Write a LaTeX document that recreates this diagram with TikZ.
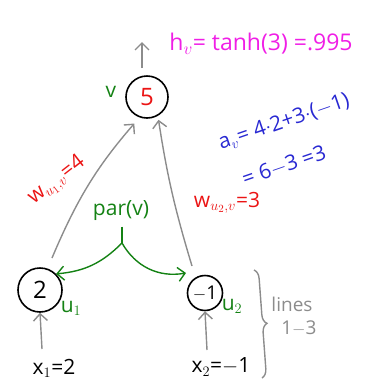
\documentclass[tikz,border=0pt]{standalone}
\usepackage{fontspec}
\setmainfont{Open Sans}
\usetikzlibrary{arrows.meta,decorations.pathreplacing}
\definecolor{gr}{RGB}{140,140,140}
\definecolor{grn}{RGB}{20,130,20}
\definecolor{mag}{RGB}{240,30,230}
\definecolor{blu}{RGB}{40,40,210}
\definecolor{rd}{RGB}{235,20,20}
\begin{document}
\begin{tikzpicture}[x=1pt,y=-1pt,
  neuron/.style={circle,draw=black,line width=1.6pt,minimum size=42pt,inner sep=0pt,font=\fontsize{24}{24}\selectfont},
  conn/.style={draw=gr,line width=1.4pt,-{Straight Barb[length=7pt,width=14pt]}},
  parr/.style={draw=grn,line width=1.4pt,-{Straight Barb[length=7pt,width=14pt]}},
  lab/.style={font=\fontsize{21}{21}\selectfont}]
\useasboundingbox (0,0) rectangle (368,384);
\node[neuron,text=rd] (v) at (147,97) {5};
\node[neuron,minimum size=44pt] (u1) at (40,290) {2};
\node[neuron,minimum size=35pt,font=\fontsize{19}{19}\selectfont] (u2) at (205,293) {$-$1};
\node[lab,text=grn] (lv) at (111,92) {v};
\node[lab,text=grn] (lu1) at (71,308) {u$_1$};
\node[lab,text=grn] (lu2) at (232,306) {u$_2$};
\node[lab] (x1) at (54,368) {x$_1$=2};
\node[lab] (x2) at (221,367) {x$_2$=$-$1};
\coordinate (vtop) at (142,68);
\coordinate (vout) at (142,42);
\draw[conn] (vtop) -- (vout);
\coordinate (x1t) at (42,349);
\draw[conn] (x1t) -- (u1.south);
\coordinate (x2t) at (207,350);
\draw[conn] (x2t) -- (u2.south);
\coordinate (u1s) at (52,258);
\coordinate (u2s) at (192,266);
\draw[conn,shorten >=8pt] (u1s) to[bend left=9] (v.250);
\draw[conn,shorten >=4pt] (u2s) to[bend left=4] (v.300);
\node[lab,text=mag,font=\fontsize{23}{23}\selectfont] (hv) at (261,44) {h$_v$= tanh(3) =.995};
\node[lab,text=rd,rotate=38] (w1) at (57,181) {w$_{u_1,v}$=4};
\node[lab,text=rd] (w2) at (227,203) {w$_{u_2,v}$=3};
\node[lab,text=blu,rotate=19] (av) at (284,122) {a$_v$= 4$\cdot$2+3$\cdot$($-$1)};
\node[lab,text=blu,rotate=19] (av2) at (284,166) {= 6$-$3 =3};
\node[lab,text=grn] (par) at (121,211) {par(v)};
\coordinate (pb) at (122,243);
\draw[grn,line width=1.4pt] (par.south) ++(1,2) -- (pb);
\draw[parr] (pb) to[bend left=20] (u1.north east);
\coordinate (pe) at (186,273);
\draw[parr] (pb) to[bend right=35] (pe);
\coordinate (b1) at (254,270);
\coordinate (b2) at (262,378);
\draw[gr,line width=1.4pt,decorate,decoration={brace,amplitude=9pt}] (b1) -- (b2);
\node[lab,text=gr,align=left,font=\fontsize{19}{23}\selectfont] (lines) at (294,316) {lines\\\ \ 1$-$3};
\end{tikzpicture}
\end{document}
